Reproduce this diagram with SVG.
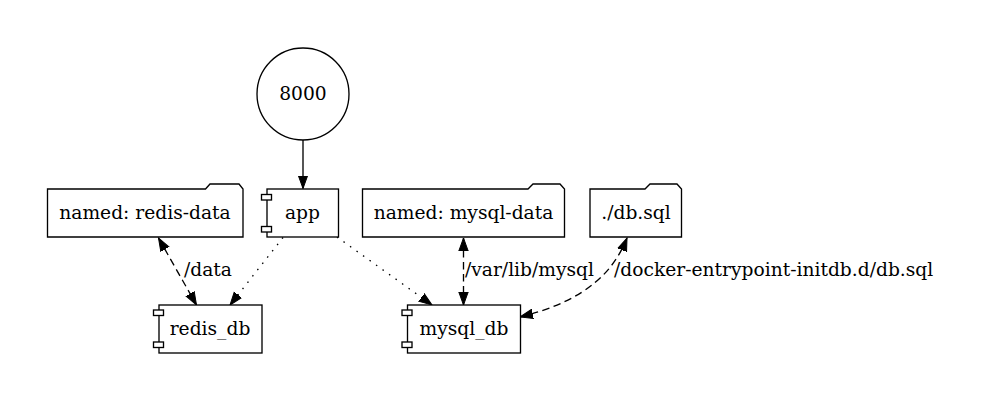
<svg xmlns="http://www.w3.org/2000/svg" width="984" height="401" viewBox="0 0 984 401">
<style>
  .shape { fill: #ffffff; stroke: #000000; stroke-width: 1.33; }
  .lbl { font-family: "DejaVu Serif", serif; font-size: 18.67px; fill: #000000; }
  .mid { text-anchor: middle; }
  .edge { fill: none; stroke: #000000; stroke-width: 1.33; }
  .dashed { stroke-dasharray: 7.5,4.5; }
  .dotted { stroke-dasharray: 1.5,6.5; }
</style>
<defs>
  <marker id="arr" markerUnits="userSpaceOnUse" markerWidth="16" markerHeight="12" refX="13" refY="5" orient="auto-start-reverse" viewBox="0 0 16 10">
    <path d="M0,0.3 L13,5 L0,9.7 Z" fill="#000000" stroke="#000000" stroke-width="1"/>
  </marker>
</defs>
<rect width="984" height="401" fill="#ffffff"/>

<g id="edges">
  <line class="edge" x1="303" y1="140" x2="303" y2="188.5" marker-end="url(#arr)"/>
  <line class="edge dashed" x1="158.5" y1="238" x2="196.5" y2="305" marker-start="url(#arr)" marker-end="url(#arr)"/>
  <line class="edge dotted" x1="283" y1="237.5" x2="230" y2="305" marker-end="url(#arr)"/>
  <line class="edge dotted" x1="337" y1="237" x2="432" y2="305" marker-end="url(#arr)"/>
  <line class="edge dashed" x1="463.5" y1="238" x2="463.5" y2="305" marker-start="url(#arr)" marker-end="url(#arr)"/>
  <path class="edge dashed" d="M627,238 C615,268 590,300 520,317" marker-start="url(#arr)" marker-end="url(#arr)"/>
  <text class="lbl" x="184" y="275.5">/data</text>
  <text class="lbl" x="465" y="275.5">/var/lib/mysql</text>
  <text class="lbl" x="614" y="275.5">/docker-entrypoint-initdb.d/db.sql</text>
</g>

<g id="port8000">
  <circle class="shape" cx="303" cy="94" r="46"/>
  <text class="lbl mid" x="303" y="100">8000</text>
</g>

<g id="app">
  <rect class="shape" x="267" y="189" width="71.5" height="48"/>
  <rect class="shape" x="261.5" y="194.5" width="10" height="5.5"/>
  <rect class="shape" x="261.5" y="226.5" width="10" height="5.5"/>
  <text class="lbl mid" x="302.5" y="218.6">app</text>
</g>

<g id="redis_data">
  <path class="shape" d="M47.5,189 H205.5 L210,184 H239 L243,189 V237 H47.5 Z"/>
  <text class="lbl mid" x="145" y="218.6">named: redis-data</text>
</g>

<g id="redis_db">
  <rect class="shape" x="159" y="305" width="103" height="48"/>
  <rect class="shape" x="153.5" y="310" width="10" height="5.5"/>
  <rect class="shape" x="153.5" y="342" width="10" height="5.5"/>
  <text class="lbl mid" x="210" y="334.5">redis_db</text>
</g>

<g id="mysql_data">
  <path class="shape" d="M362.5,189 H528 L533,184 H560 L564.5,189 V237 H362.5 Z"/>
  <text class="lbl mid" x="463.5" y="218.6">named: mysql-data</text>
</g>

<g id="db_sql">
  <path class="shape" d="M590,189 H645 L650,184 H677 L681.5,189 V237 H590 Z"/>
  <text class="lbl mid" x="636" y="218.6">./db.sql</text>
</g>

<g id="mysql_db">
  <rect class="shape" x="407.5" y="305" width="113" height="48"/>
  <rect class="shape" x="402" y="310" width="10" height="5.5"/>
  <rect class="shape" x="402" y="342" width="10" height="5.5"/>
  <text class="lbl mid" x="464" y="334.5">mysql_db</text>
</g>
</svg>
